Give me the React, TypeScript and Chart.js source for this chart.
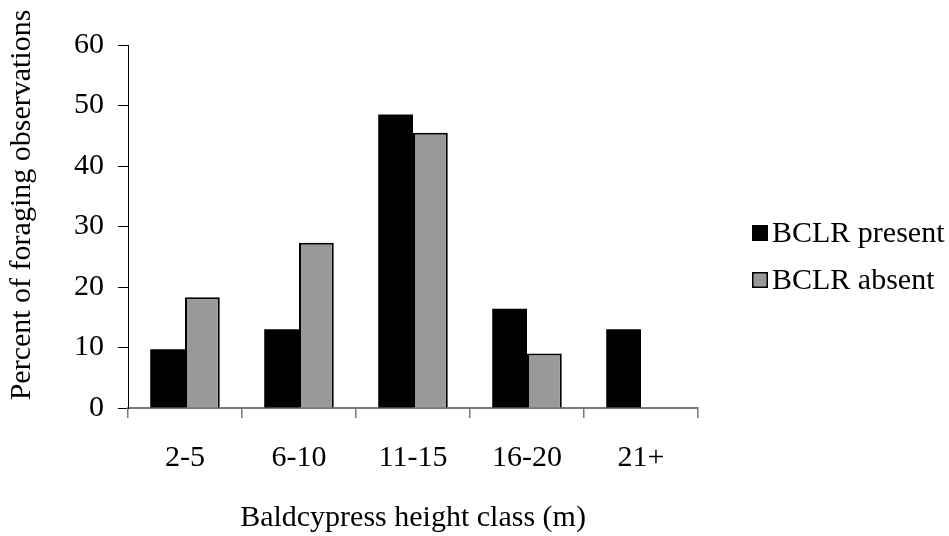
import React, { useEffect, useRef } from "react";
import { Chart, registerables } from "chart.js";

Chart.register(...registerables);

const categories = ["2-5", "6-10", "11-15", "16-20", "21+"];
const presentValues = [9.7, 13.0, 48.5, 16.4, 13.0];
const absentValues: (number | null)[] = [18.3, 27.3, 45.5, 9.0, null];
const seriesLabels = ["BCLR present", "BCLR absent"];
const yTicks = [0, 10, 20, 30, 40, 50, 60];
const yTitle = "Percent of foraging observations";
const xTitle = "Baldcypress height class (m)";

const FONT = "'Liberation Serif', 'Times New Roman', serif";

const legendPlugin = {
  id: "customLegend",
  afterDraw(chart: any) {
    const ctx = chart.ctx;
    ctx.save();
    const x0 = 752;
    const size = 16;
    const centers = [233, 280];
    chart.data.datasets.forEach((ds: any, i: number) => {
      const cy = centers[i];
      ctx.fillStyle = ds.backgroundColor;
      ctx.fillRect(x0, cy - size / 2, size, size);
      ctx.lineWidth = 1.5;
      ctx.strokeStyle = "#000";
      ctx.strokeRect(x0 + 0.75, cy - size / 2 + 0.75, size - 1.5, size - 1.5);
      ctx.fillStyle = "#000";
      ctx.font = `30px ${FONT}`;
      ctx.textBaseline = "middle";
      ctx.textAlign = "left";
      ctx.fillText(ds.label, 772, cy + 1);
    });
    // rotated y-axis title
    ctx.translate(22, 205);
    ctx.rotate(-Math.PI / 2);
    ctx.textAlign = "center";
    ctx.textBaseline = "middle";
    ctx.font = `30px ${FONT}`;
    ctx.fillStyle = "#000";
    ctx.fillText(yTitle, 0, 0);
    ctx.restore();
  },
};

export default function App() {
  const ref = useRef<HTMLCanvasElement | null>(null);
  useEffect(() => {
    document.body.style.margin = "0";
    const chart = new Chart(ref.current as HTMLCanvasElement, {
      type: "bar",
      data: {
        labels: categories,
        datasets: [
          {
            label: seriesLabels[0],
            data: presentValues,
            backgroundColor: "#000000",
            borderColor: "#000000",
            borderWidth: 0,
          },
          {
            label: seriesLabels[1],
            data: absentValues,
            backgroundColor: "#999999",
            borderColor: "#000000",
            borderWidth: 2,
          },
        ],
      },
      options: {
        animation: false,
        responsive: false,
        maintainAspectRatio: false,
        layout: { padding: { top: 45, right: 251, left: 0, bottom: 0 } },
        plugins: {
          legend: { display: false },
          tooltip: { enabled: false },
        },
        datasets: {
          bar: { categoryPercentage: 0.61, barPercentage: 1 },
        },
        scales: {
          x: {
            afterFit: (s: any) => {
              s.height = 128;
            },
            grid: {
              drawOnChartArea: false,
              drawTicks: true,
              tickLength: 10,
              color: "#7a7a7a",
              lineWidth: 1.5,
              offset: true,
            },
            border: { display: true, color: "#7a7a7a", width: 2 },
            ticks: {
              color: "#000",
              font: { family: FONT, size: 30 },
              padding: 22,
              maxRotation: 0,
            },
            title: {
              display: true,
              text: xTitle,
              color: "#000",
              font: { family: FONT, size: 30 },
              padding: { top: 0, bottom: 0 },
            },
          },
          y: {
            min: 0,
            max: 60,
            afterFit: (s: any) => {
              s.width = 128;
            },
            afterBuildTicks: (s: any) => {
              s.ticks = yTicks.map((v) => ({ value: v }));
            },
            grid: {
              drawOnChartArea: false,
              drawTicks: true,
              tickLength: 10,
              color: "#000",
              lineWidth: 1,
            },
            border: { display: true, color: "#000", width: 1 },
            ticks: {
              color: "#000",
              font: { family: FONT, size: 30 },
              padding: 14,
            },
            title: { display: false },
          },
        },
      },
      plugins: [legendPlugin],
    });
    return () => chart.destroy();
  }, []);
  return (
    <div style={{ position: "fixed", left: 0, top: 0, width: 949, height: 536, background: "#fff" }}>
      <canvas ref={ref} width={949} height={536} style={{ width: 949, height: 536 }} />
    </div>
  );
}
